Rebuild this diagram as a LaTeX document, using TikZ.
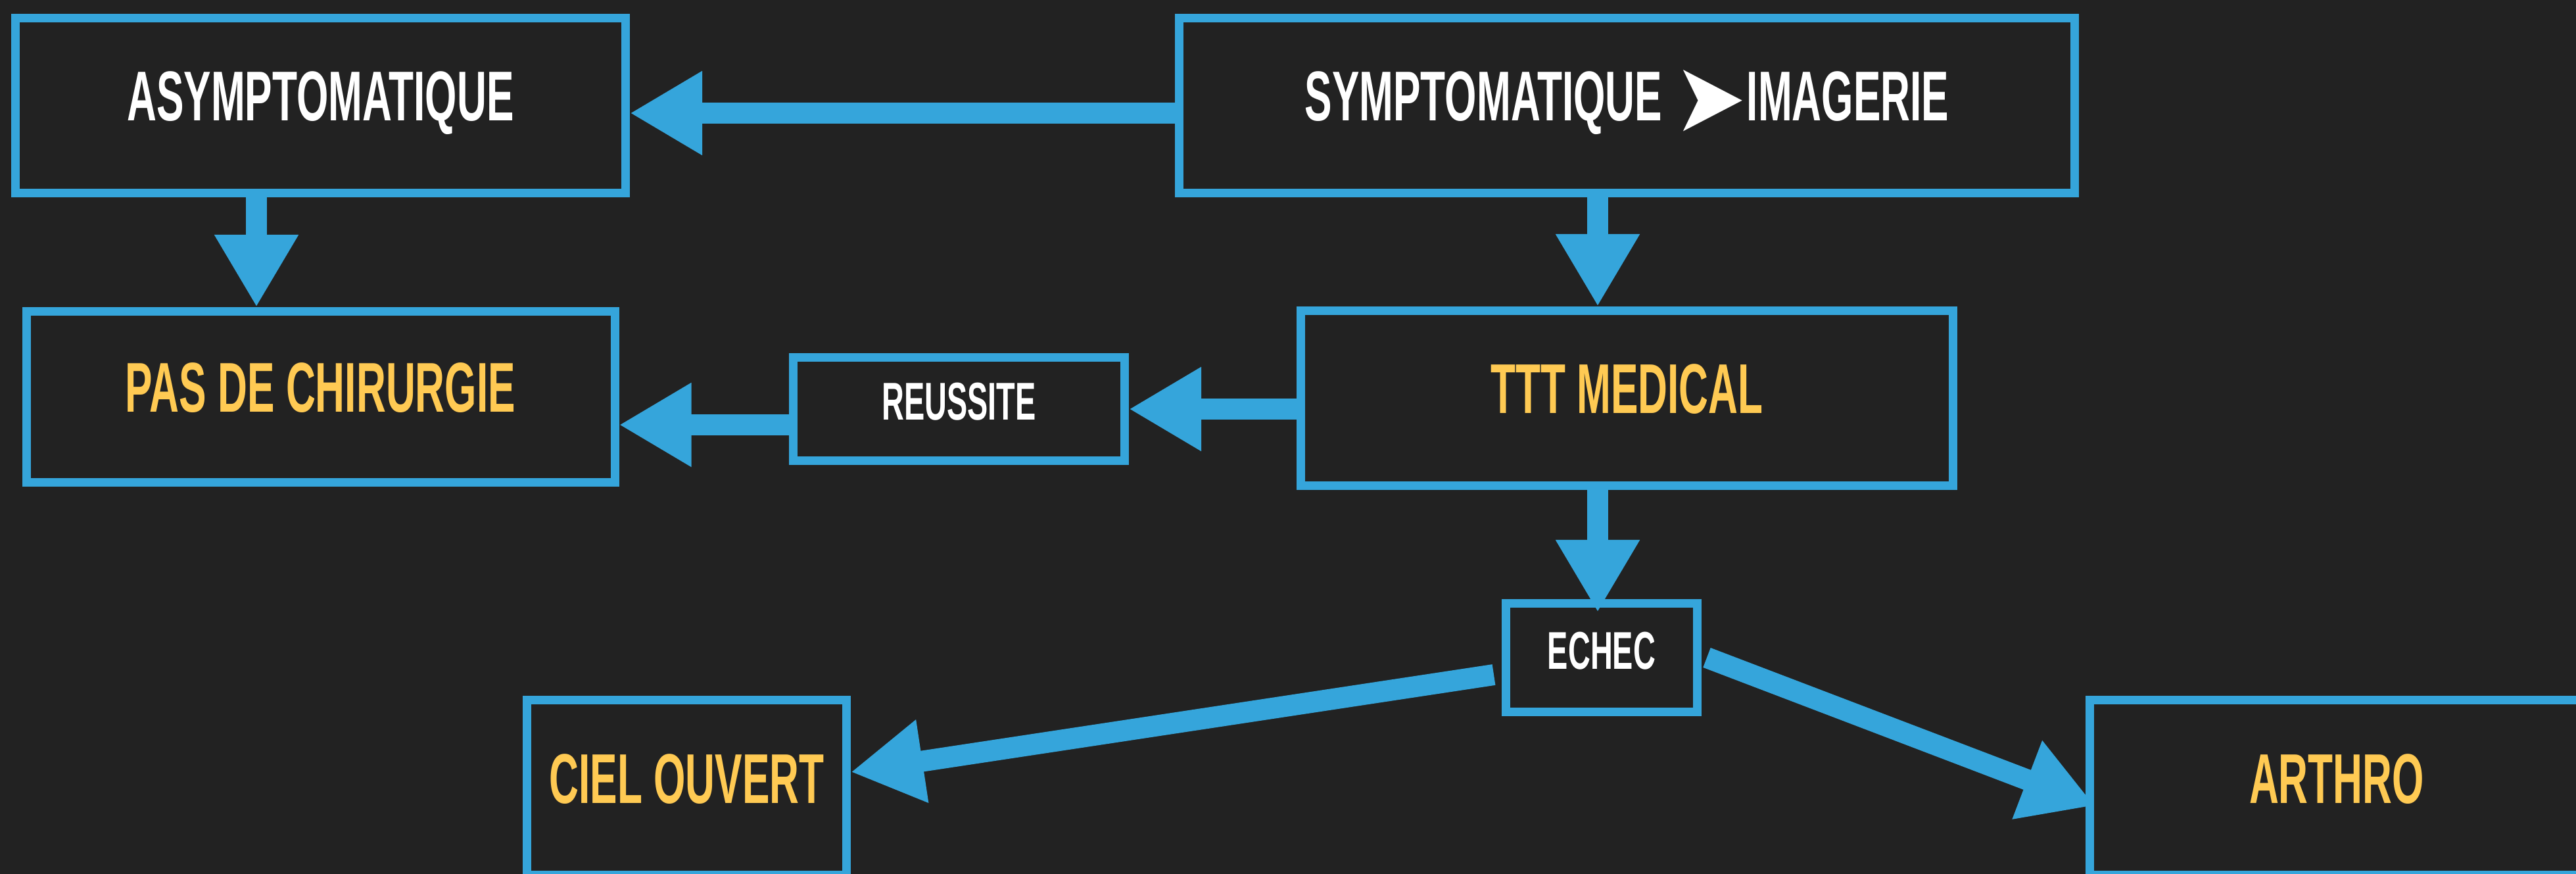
\documentclass[tikz,border=0pt]{standalone}
\usepackage{fontspec}
\setmainfont{Liberation Sans}[FakeStretch=0.58]
\newfontfamily\symfont{DejaVu Sans}[FakeStretch=0.9]
\usetikzlibrary{positioning,arrows.meta}
\definecolor{bgdark}{HTML}{222222}
\definecolor{flowblue}{HTML}{35A5DB}
\definecolor{flowyellow}{HTML}{FFCA53}

\begin{document}
\begin{tikzpicture}[>={Triangle[width=12mm,length=11mm]}, every node/.style={font=\bfseries\fontsize{30.5}{36}\selectfont}]
  % Styles
  \tikzset{
    box/.style={draw=flowblue, line width=1.3mm, fill=bgdark, text=white, minimum height=26.6mm, text height=8mm, text depth=3.3mm, inner sep=0pt},
    result/.style={box, text=flowyellow},
    smallbox/.style={box, minimum height=15.7mm, text height=6mm, text depth=2.6mm, font=\bfseries\fontsize{23}{28}\selectfont},
    arrow/.style={->, line width=3.2mm, draw=flowblue, fill=flowblue}
  }

  % Background
  \useasboundingbox (0,0) rectangle (39.18,-13.29);
  \fill[bgdark] (0,0) rectangle (39.18,-13.29);

  % Nodes
  \node[box, minimum width=92.8mm] (asym) at (4.875,-1.605) {ASYMPTOMATIQUE};
  \node[box, minimum width=136.2mm] (symp) at (24.745,-1.605) {SYMPTOMATIQUE \raisebox{-4.4pt}{\symfont\fontsize{42}{44}\selectfont ➤}IMAGERIE};
  \node[result, minimum width=89.5mm, minimum height=26mm, below=16.7mm of asym] (pasop) {PAS DE CHIRURGIE};
  \node[result, minimum width=99.2mm, below=16.6mm of symp] (ttt) {TTT MEDICAL};
  \node[smallbox, minimum width=50.4mm, left=25.5mm of ttt, yshift=-1.65mm] (reuss) {REUSSITE};
  \node[smallbox, minimum width=29.1mm, minimum height=16.5mm, below=16.6mm of ttt, xshift=-3.85mm] (echec) {ECHEC};
  \node[result, minimum width=48.6mm] (ciel) at (10.445,-11.975) {CIEL OUVERT};
  \node[result, minimum width=75.1mm] (arthro) at (35.54,-11.975) {ARTHRO};

  % Arrows: top row, then down to the treatment
  \draw[arrow] ([yshift=-1.15mm]symp.west) -- ([yshift=-1.15mm]asym.east);
  \draw[arrow] ([xshift=-9.75mm]asym.south) -- ([xshift=-9.75mm]asym.south |- pasop.north);
  \draw[arrow] ([xshift=-4.45mm]symp.south) -- ([xshift=-4.45mm]symp.south |- ttt.north);

  % success goes back left
  \draw[arrow] (ttt.west |- reuss) -- (reuss.east);
  \draw[arrow] ([yshift=-2.4mm]reuss.west) -- ([yshift=-2.4mm]reuss.west -| pasop.east);

  % failure: down, then split to both surgeries
  \draw[arrow] ([xshift=-4.45mm]ttt.south) -- ([xshift=-4.45mm,yshift=-2mm]ttt.south |- echec.north);
  \draw[arrow] ([shift={(-1.2mm,-2.6mm)}]echec.west) -- ([yshift=2.35mm]ciel.east);
  \draw[arrow] ([xshift=0.8mm]echec.east) -- ([shift={(1.4mm,-2.75mm)}]arthro.west);
\end{tikzpicture}
\end{document}
